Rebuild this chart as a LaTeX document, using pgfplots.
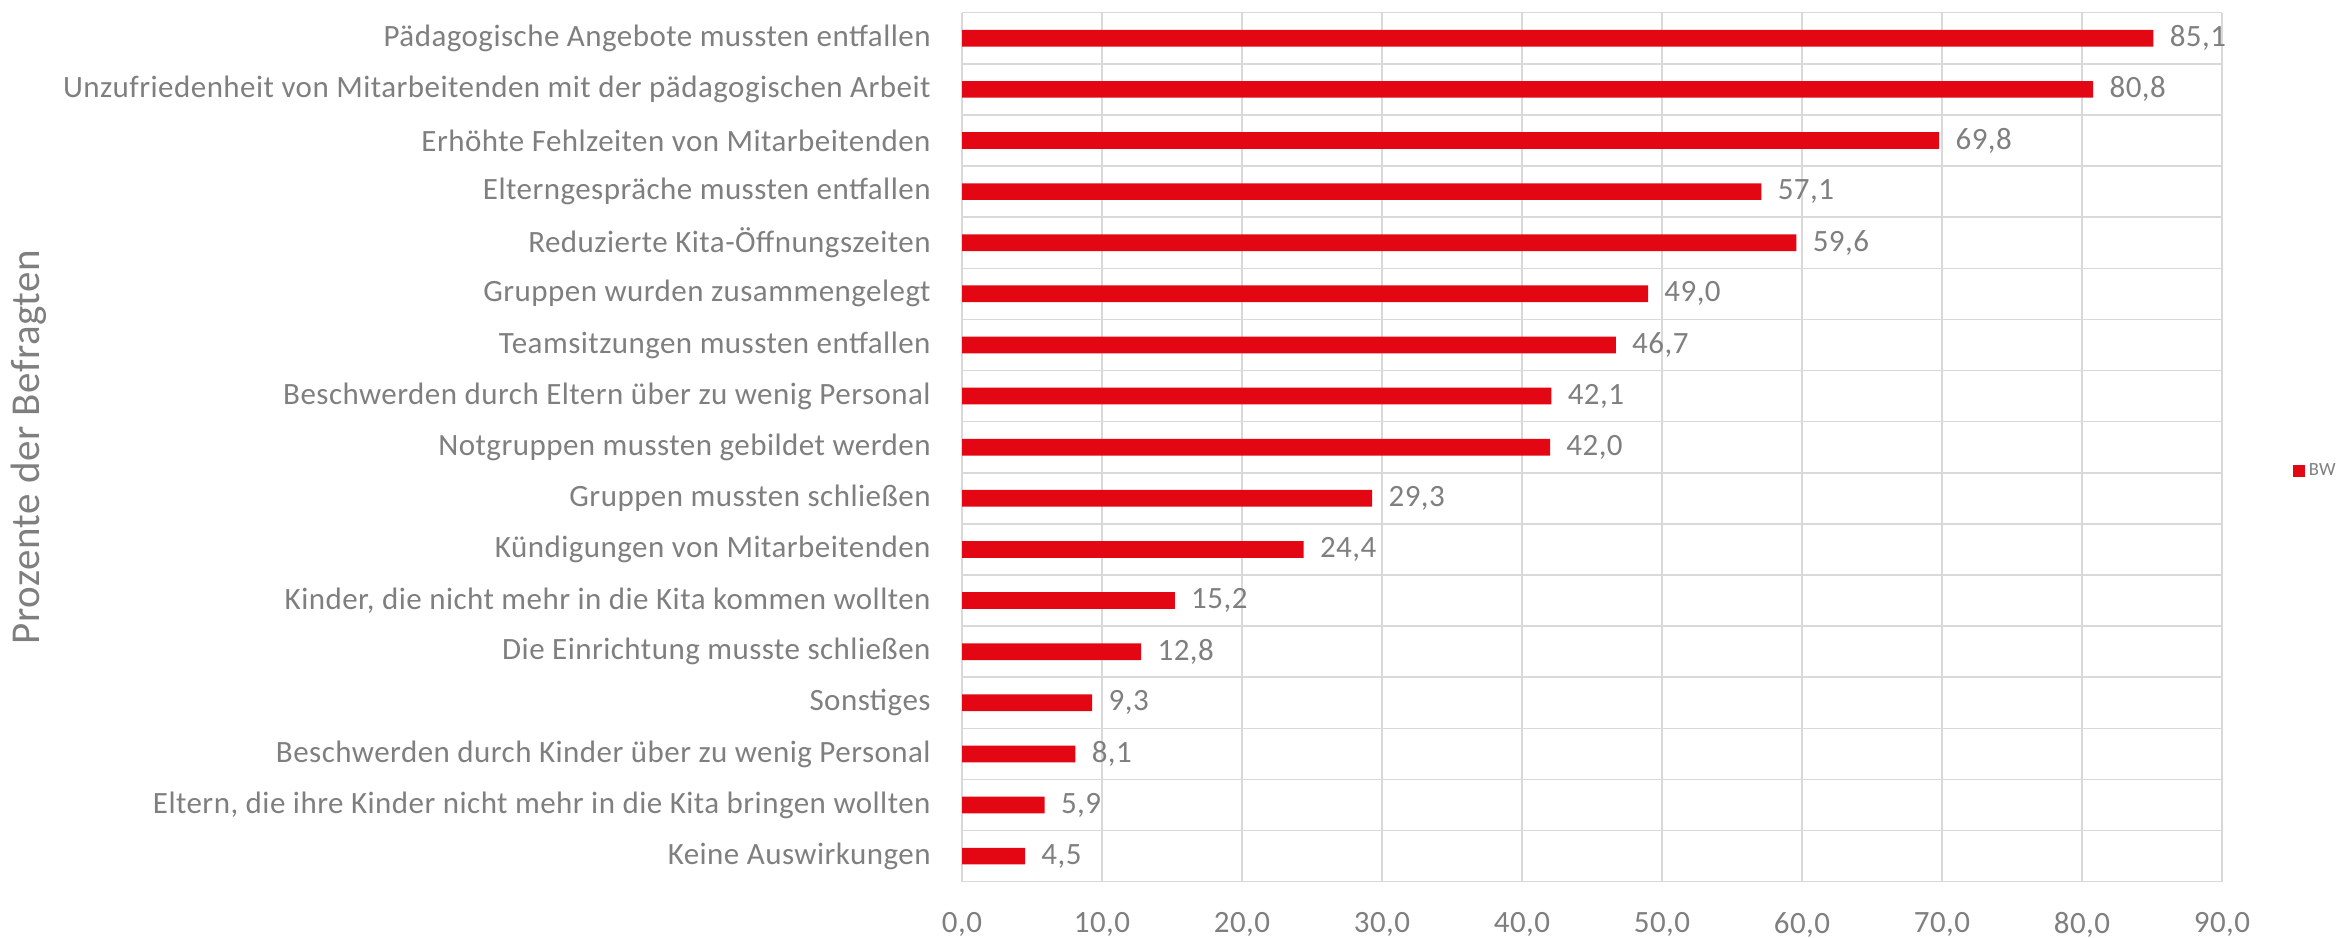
\documentclass[border=0pt]{standalone}
\usepackage{fontspec}
\setmainfont{Carlito}[LetterSpace=1.5]
\usepackage{pgfplots}
\pgfplotsset{compat=1.18}
\definecolor{bwred}{HTML}{E30613}
\definecolor{txtgray}{HTML}{7F7F7F}
\definecolor{gridgray}{HTML}{D9D9D9}
\begin{document}
\begin{tikzpicture}
\path[use as bounding box] (0,0) rectangle (1174pt,468.5pt);
\begin{axis}[
  at={(481pt,27.65pt)}, anchor=south west,
  scale only axis, width=630pt, height=434.5pt,
  xbar, bar width=8.35pt,
  xmin=0, xmax=90, ymin=-0.5, ymax=16.5,
  xtick={0,10,...,90},
  ytick={0,...,16},
  yticklabels={{Keine Auswirkungen},
    {Eltern, die ihre Kinder nicht mehr in die Kita bringen wollten},
    {Beschwerden durch Kinder über zu wenig Personal},
    {Sonstiges},
    {Die Einrichtung musste schließen},
    {Kinder, die nicht mehr in die Kita kommen wollten},
    {Kündigungen von Mitarbeitenden},
    {Gruppen mussten schließen},
    {Notgruppen mussten gebildet werden},
    {Beschwerden durch Eltern über zu wenig Personal},
    {Teamsitzungen mussten entfallen},
    {Gruppen wurden zusammengelegt},
    {Reduzierte Kita-Öffnungszeiten},
    {Elterngespräche mussten entfallen},
    {Erhöhte Fehlzeiten von Mitarbeitenden},
    {Unzufriedenheit von Mitarbeitenden mit der pädagogischen Arbeit},
    {Pädagogische Angebote mussten entfallen}},
  minor ytick={-0.5,0.5,...,16.5},
  xmajorgrids, yminorgrids,
  grid style={gridgray, line width=0.75pt},
  minor grid style={gridgray, line width=0.75pt},
  axis line style={draw=none},
  major tick length=0pt, minor tick length=0pt,
  tick style={draw=none},
  /pgf/number format/assume math mode=true,
  xticklabel={\pgfmathprintnumber[fixed,fixed zerofill,precision=1,use comma]{\tick}},
  xticklabel style={inner sep=0pt, anchor=north, yshift=-15pt},
  yticklabel style={inner sep=0pt, anchor=east, xshift=-15.5pt},
  tick label style={font=\fontsize{15.5}{18}\selectfont, text=txtgray},
  ylabel={Prozente der Befragten},
  ylabel style={at={(axis description cs:-0.741,0.5)}, anchor=center, font=\fontsize{20.5}{24}\selectfont, text=txtgray},
  nodes near coords={\pgfmathprintnumber[fixed,fixed zerofill,precision=1,use comma]{\pgfplotspointmeta}},
  nodes near coords style={font=\fontsize{15.5}{18}\selectfont, text=txtgray, anchor=west, inner sep=0pt, xshift=8pt},
  legend style={at={(axis description cs:1.056,0.4726)}, anchor=west, draw=none, fill=none, inner sep=0pt,
    font=\fontsize{9.3}{11}\selectfont, text=txtgray, cells={anchor=west}},
]
\addplot[fill=bwred, draw=none, legend image code/.code={\fill[bwred] (0pt,-3pt) rectangle (6pt,3pt);},
  point meta=x] coordinates {
  (4.5,0) (5.9,1) (8.1,2) (9.3,3) (12.8,4) (15.2,5) (24.4,6) (29.3,7) (42.0,8)
  (42.1,9) (46.7,10) (49.0,11) (59.6,12) (57.1,13) (69.8,14) (80.8,15) (85.1,16)
};
\addlegendentry{BW}
\end{axis}
\end{tikzpicture}
\end{document}
